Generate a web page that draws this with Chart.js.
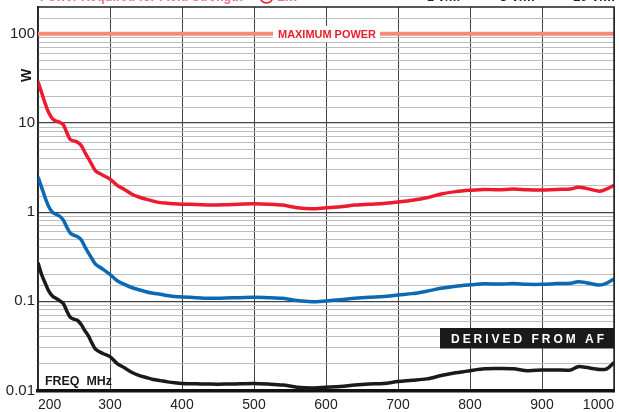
<!DOCTYPE html>
<html>
<head>
<meta charset="utf-8">
<script src="https://cdn.jsdelivr.net/npm/chart.js@4.4.1/dist/chart.umd.min.js"></script>
<style>
  html, body { margin: 0; padding: 0; background: #fff; }
  #c { display: block; }
</style>
</head>
<body>
<canvas id="c" width="619" height="412"></canvas>
<script>
// ---- data ----
const freqs = [200,205,210,215,220,225,230,235,240,245,250,255,260,265,270,275,280,290,300,310,320,330,340,350,360,370,380,390,400,420,440,460,480,500,520,540,560,580,600,620,640,660,680,700,720,740,760,780,800,820,840,860,880,900,920,940,950,960,980,990,1000];
const power10Vm = [29,22,16.5,13,11.2,10.5,10.2,9.6,7.8,6.5,6.3,6.1,5.6,4.7,4.0,3.4,2.9,2.6,2.35,2.0,1.8,1.6,1.48,1.4,1.33,1.28,1.26,1.24,1.23,1.22,1.2,1.21,1.23,1.24,1.23,1.2,1.12,1.09,1.12,1.15,1.2,1.23,1.25,1.3,1.36,1.45,1.6,1.7,1.76,1.8,1.78,1.82,1.78,1.77,1.8,1.82,1.9,1.86,1.72,1.82,2.0];
const power3Vm = [2.5,1.9,1.45,1.15,1.0,0.95,0.9,0.82,0.68,0.58,0.55,0.53,0.49,0.41,0.35,0.3,0.26,0.23,0.2,0.17,0.155,0.143,0.135,0.128,0.123,0.12,0.116,0.113,0.112,0.11,0.108,0.109,0.11,0.111,0.11,0.108,0.102,0.099,0.101,0.104,0.108,0.111,0.113,0.118,0.122,0.13,0.14,0.148,0.153,0.157,0.156,0.158,0.155,0.155,0.158,0.16,0.166,0.163,0.152,0.16,0.178];
const power1Vm = [0.27,0.2,0.16,0.13,0.115,0.108,0.102,0.095,0.078,0.066,0.063,0.061,0.055,0.047,0.041,0.034,0.029,0.026,0.024,0.02,0.018,0.016,0.0148,0.014,0.0133,0.0129,0.0125,0.0122,0.012,0.0119,0.0118,0.0118,0.0119,0.012,0.0118,0.0115,0.0109,0.0107,0.0109,0.0111,0.0115,0.0118,0.012,0.0126,0.013,0.0135,0.0147,0.0158,0.0167,0.0175,0.0176,0.0175,0.0167,0.017,0.017,0.017,0.0185,0.0182,0.0172,0.0175,0.0205];
const maxPowerFreqs = [200, 1000];
const maxPowerValues = [100, 100];
const xTicks = [200,300,400,500,600,700,800,900,1000];
const yTickLabels = {"100":"100","10":"10","1":"1","0.1":"0.1","0.01":"0.01"};
const legendLabels = ["1 V/m","3 V/m","10 V/m"];
const titleText = "Power Required for Field Strength";
const maxPowerLabel = "MAXIMUM POWER";
const freqLabel = "FREQ  MHz";
const derivedLabel = "DERIVED FROM AF";
const yAxisLabel = "W";

const toXY = (xs, ys) => xs.map((x, i) => ({x, y: ys[i]}));
const isDecade = v => Math.abs(Math.log10(v) - Math.round(Math.log10(v))) < 1e-6;

const FONT = "'Liberation Sans', Arial, sans-serif";

const overlay = {
  id: 'overlay',
  afterDatasetsDraw(chart) {
    const {ctx, chartArea: a, scales} = chart;
    const ys = scales.y;
    ctx.save();
    // frame top/right
    ctx.strokeStyle = '#222';
    ctx.lineWidth = 1.5;
    ctx.beginPath();
    ctx.moveTo(a.left, a.top); ctx.lineTo(a.right, a.top); ctx.lineTo(a.right, a.bottom);
    ctx.stroke();

    // Maximum power label
    const py = ys.getPixelForValue(100);
    ctx.fillStyle = '#fff';
    ctx.fillRect(273, py - 8, 107, 16);
    ctx.fillStyle = '#E8202F';
    ctx.font = "bold 11.5px " + FONT;
    ctx.textAlign = 'center';
    ctx.textBaseline = 'alphabetic';
    ctx.fillText(maxPowerLabel, 327, py + 4.3, 98);

    // FREQ MHz
    ctx.fillStyle = '#1a1a1a';
    ctx.font = "bold 13px " + FONT;
    ctx.textAlign = 'left';
    ctx.fillText(freqLabel, 45, 384.5, 67);

    // DERIVED FROM AF box
    ctx.fillStyle = '#1a1a1a';
    ctx.fillRect(440, 328, a.right - 440, 20.5);
    ctx.fillStyle = '#fff';
    ctx.font = "bold 12px " + FONT;
    const chars = derivedLabel.split('');
    const x0 = 451, x1 = 604;
    const widths = chars.map(ch => ctx.measureText(ch).width);
    const total = widths.reduce((s, w) => s + w, 0);
    const gap = (x1 - x0 - total) / (chars.length - 1);
    let xx = x0;
    chars.forEach((ch, i) => { ctx.fillText(ch, xx, 342.5); xx += widths[i] + gap; });

    // W axis label
    ctx.save();
    ctx.translate(30.5, 75.5);
    ctx.rotate(-Math.PI / 2);
    ctx.fillStyle = '#1a1a1a';
    ctx.font = "bold 14px " + FONT;
    ctx.textAlign = 'center';
    ctx.fillText(yAxisLabel, 0, 0);
    ctx.restore();

    // partially visible header (cut off at top)
    ctx.fillStyle = '#F07080';
    ctx.font = "bold 14px " + FONT;
    ctx.textAlign = 'left';
    ctx.fillText(titleText, 40, 1, 203);
    ctx.strokeStyle = '#E8202F';
    ctx.lineWidth = 1.5;
    ctx.beginPath(); ctx.arc(266.5, -3.5, 6.5, 0, Math.PI * 2); ctx.stroke();
    ctx.fillStyle = '#F07080';
    ctx.fillText("1m", 277, 1, 23);
    ctx.fillStyle = '#222';
    ctx.font = "bold 13px " + FONT;
    ctx.fillText(legendLabels[0], 427, 1, 33);
    ctx.fillText(legendLabels[1], 500, 1, 40);
    ctx.fillText(legendLabels[2], 573, 1, 42);
    ctx.restore();
  }
};

new Chart(document.getElementById('c'), {
  type: 'line',
  data: {
    datasets: [
      { label: 'Maximum power', data: toXY(maxPowerFreqs, maxPowerValues), borderColor: '#F58B76', borderWidth: 4, pointRadius: 0, tension: 0 },
      { label: legendLabels[2], data: toXY(freqs, power10Vm), borderColor: '#EC1C2E', borderWidth: 3.5, pointRadius: 0, tension: 0.3 },
      { label: legendLabels[1], data: toXY(freqs, power3Vm), borderColor: '#0B68B2', borderWidth: 3.5, pointRadius: 0, tension: 0.3 },
      { label: legendLabels[0], data: toXY(freqs, power1Vm), borderColor: '#1a1a1a', borderWidth: 3.5, pointRadius: 0, tension: 0.3 }
    ]
  },
  options: {
    responsive: false,
    animation: false,
    events: [],
    layout: { padding: { top: 7, right: 5, left: 0, bottom: 0 } },
    plugins: { legend: { display: false }, tooltip: { enabled: false }, title: { display: false } },
    scales: {
      x: {
        type: 'linear', min: 200, max: 1000,
        afterBuildTicks: s => { s.ticks = xTicks.map(v => ({value: v})); },
        afterFit: s => { s.height = 21.5; s.paddingLeft = 0; s.paddingRight = 0; },
        grid: { color: '#444', lineWidth: 1, drawTicks: false },
        border: { display: true, color: '#111', width: 3.5 },
        ticks: { align: 'inner', padding: 6, color: '#222', font: { family: FONT, size: 14 }, maxRotation: 0, autoSkip: false,
                 callback: v => String(v) }
      },
      y: {
        type: 'logarithmic', min: 0.01, max: 200,
        afterFit: s => { s.width = 38; s.paddingTop = 0; s.paddingBottom = 0; },
        grid: {
          drawTicks: false,
          color: c => { const v = c.tick.value; if (v >= 199) return 'rgba(0,0,0,0)'; return isDecade(v) ? '#444' : '#BDBDBD'; },
          lineWidth: c => isDecade(c.tick.value) ? 1.2 : 1
        },
        border: { display: true, color: '#222', width: 1.5 },
        ticks: {
          autoSkip: false, padding: 3, color: '#222', font: { family: FONT, size: 15 },
          callback: v => { const k = String(+v.toPrecision(6)); return isDecade(v) && yTickLabels[k] ? yTickLabels[k] : ''; }
        }
      }
    }
  },
  plugins: [overlay]
});
</script>
</body>
</html>
